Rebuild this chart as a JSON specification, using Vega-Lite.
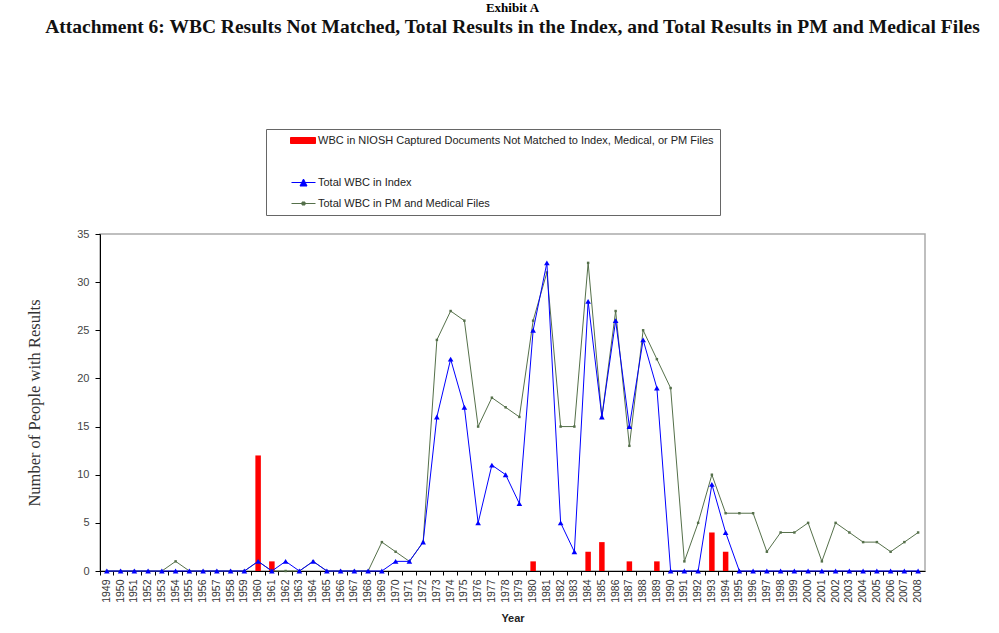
{
  "$schema": "https://vega.github.io/schema/vega-lite/v6.json",
  "width": 825,
  "height": 337,
  "autosize": {"type": "none"},
  "padding": {"left": 100, "top": 234, "right": 74, "bottom": 62},
  "background": "white",
  "title": {
    "text": "Exhibit A",
    "subtitle": "Attachment 6: WBC Results Not Matched, Total Results in the Index, and Total Results in PM and Medical Files",
    "font": "Liberation Serif",
    "fontSize": 13,
    "fontWeight": "bold",
    "color": "#000",
    "subtitleFont": "Liberation Serif",
    "subtitleFontSize": 19.5,
    "subtitleFontWeight": "bold",
    "subtitleColor": "#111",
    "subtitlePadding": 3,
    "anchor": "middle",
    "offset": 92
  },
  "data": {
    "values": [
      {"year": "1949", "bar": null, "idx": 0, "pm": 0},
      {"year": "1950", "bar": null, "idx": 0, "pm": 0},
      {"year": "1951", "bar": null, "idx": 0, "pm": 0},
      {"year": "1952", "bar": null, "idx": 0, "pm": 0},
      {"year": "1953", "bar": null, "idx": 0, "pm": 0},
      {"year": "1954", "bar": null, "idx": 0, "pm": 1},
      {"year": "1955", "bar": null, "idx": 0, "pm": 0},
      {"year": "1956", "bar": null, "idx": 0, "pm": 0},
      {"year": "1957", "bar": null, "idx": 0, "pm": 0},
      {"year": "1958", "bar": null, "idx": 0, "pm": 0},
      {"year": "1959", "bar": null, "idx": 0, "pm": 0},
      {"year": "1960", "bar": 12, "idx": 1, "pm": 1},
      {"year": "1961", "bar": 1, "idx": 0, "pm": 0},
      {"year": "1962", "bar": null, "idx": 1, "pm": 0},
      {"year": "1963", "bar": null, "idx": 0, "pm": 0},
      {"year": "1964", "bar": null, "idx": 1, "pm": 1},
      {"year": "1965", "bar": null, "idx": 0, "pm": 0},
      {"year": "1966", "bar": null, "idx": 0, "pm": 0},
      {"year": "1967", "bar": null, "idx": 0, "pm": 0},
      {"year": "1968", "bar": null, "idx": 0, "pm": 0},
      {"year": "1969", "bar": null, "idx": 0, "pm": 3},
      {"year": "1970", "bar": null, "idx": 1, "pm": 2},
      {"year": "1971", "bar": null, "idx": 1, "pm": 1},
      {"year": "1972", "bar": null, "idx": 3, "pm": 3},
      {"year": "1973", "bar": null, "idx": 16, "pm": 24},
      {"year": "1974", "bar": null, "idx": 22, "pm": 27},
      {"year": "1975", "bar": null, "idx": 17, "pm": 26},
      {"year": "1976", "bar": null, "idx": 5, "pm": 15},
      {"year": "1977", "bar": null, "idx": 11, "pm": 18},
      {"year": "1978", "bar": null, "idx": 10, "pm": 17},
      {"year": "1979", "bar": null, "idx": 7, "pm": 16},
      {"year": "1980", "bar": 1, "idx": 25, "pm": 26},
      {"year": "1981", "bar": null, "idx": 32, "pm": 31},
      {"year": "1982", "bar": null, "idx": 5, "pm": 15},
      {"year": "1983", "bar": null, "idx": 2, "pm": 15},
      {"year": "1984", "bar": 2, "idx": 28, "pm": 32},
      {"year": "1985", "bar": 3, "idx": 16, "pm": 16},
      {"year": "1986", "bar": null, "idx": 26, "pm": 27},
      {"year": "1987", "bar": 1, "idx": 15, "pm": 13},
      {"year": "1988", "bar": null, "idx": 24, "pm": 25},
      {"year": "1989", "bar": 1, "idx": 19, "pm": 22},
      {"year": "1990", "bar": null, "idx": 0, "pm": 19},
      {"year": "1991", "bar": null, "idx": 0, "pm": 1},
      {"year": "1992", "bar": null, "idx": 0, "pm": 5},
      {"year": "1993", "bar": 4, "idx": 9, "pm": 10},
      {"year": "1994", "bar": 2, "idx": 4, "pm": 6},
      {"year": "1995", "bar": null, "idx": 0, "pm": 6},
      {"year": "1996", "bar": null, "idx": 0, "pm": 6},
      {"year": "1997", "bar": null, "idx": 0, "pm": 2},
      {"year": "1998", "bar": null, "idx": 0, "pm": 4},
      {"year": "1999", "bar": null, "idx": 0, "pm": 4},
      {"year": "2000", "bar": null, "idx": 0, "pm": 5},
      {"year": "2001", "bar": null, "idx": 0, "pm": 1},
      {"year": "2002", "bar": null, "idx": 0, "pm": 5},
      {"year": "2003", "bar": null, "idx": 0, "pm": 4},
      {"year": "2004", "bar": null, "idx": 0, "pm": 3},
      {"year": "2005", "bar": null, "idx": 0, "pm": 3},
      {"year": "2006", "bar": null, "idx": 0, "pm": 2},
      {"year": "2007", "bar": null, "idx": 0, "pm": 3},
      {"year": "2008", "bar": null, "idx": 0, "pm": 4}
    ]
  },
  "encoding": {
    "x": {
      "field": "year",
      "type": "ordinal",
      "scale": {"paddingInner": 0, "paddingOuter": 0},
      "axis": {
        "title": "Year",
        "titleFont": "Liberation Sans",
        "titleFontSize": 11,
        "titleFontWeight": "bold",
        "titleColor": "#222",
        "titlePadding": 10,
        "labelAngle": -90,
        "labelFont": "Liberation Sans",
        "labelFontSize": 10.5,
        "labelColor": "#333",
        "labelPadding": 4,
        "bandPosition": 0,
        "labelOffset": 0,
        "domainColor": "#000",
        "tickColor": "#000",
        "tickSize": 4
      }
    }
  },
  "layer": [
    {
      "mark": {"type": "bar", "width": {"band": 0.4}},
      "encoding": {
        "y": {
          "field": "bar",
          "type": "quantitative",
          "scale": {"domain": [0, 35], "nice": false},
          "axis": {
            "title": "Number of People with Results",
            "titleFont": "Liberation Serif",
            "titleFontSize": 16.5,
            "titleFontWeight": "normal",
            "titleColor": "#333",
            "titlePadding": 34,
            "values": [0, 5, 10, 15, 20, 25, 30, 35],
            "labelFont": "Liberation Sans",
            "labelFontSize": 11,
            "labelColor": "#444",
            "labelPadding": 6,
            "domainColor": "#000",
            "tickColor": "#000",
            "tickSize": 5,
            "grid": false
          }
        },
        "color": {
          "datum": "WBC in NIOSH Captured Documents Not Matched to Index, Medical, or PM Files",
          "scale": {
            "domain": ["WBC in NIOSH Captured Documents Not Matched to Index, Medical, or PM Files", " ", "Total WBC in Index", "Total WBC in PM and Medical Files"],
            "range": ["#ff0000", "#ffffff", "#0000ff", "#55704a"]
          },
          "legend": {
            "orient": "none",
            "legendX": 166,
            "legendY": -105,
            "title": null,
            "padding": 6,
            "strokeColor": "#666",
            "fillColor": "#ffffff",
            "labelFont": "Liberation Sans",
            "labelFontSize": 11,
            "labelColor": "#222",
            "labelOffset": 35,
            "labelLimit": 600,
            "symbolSize": 100,
            "rowPadding": 9,
            "encode": {
              "symbols": {
                "update": {
                  "shape": {"signal": "datum.value === 'Total WBC in Index' ? 'M2.8,0H7.6M4.5,0.7L5.2,-0.7L5.9,0.7Z' : datum.value === 'Total WBC in PM and Medical Files' ? 'M2.8,0H7.6M4.9,-0.3H5.5V0.3H4.9Z' : datum.value === ' ' ? 'M0,0' : 'M2.6,-0.6H7.6V0.6H2.6Z'"},
                  "fill": {"signal": "datum.value === 'Total WBC in Index' ? '#0000ff' : datum.value === 'Total WBC in PM and Medical Files' ? '#333333' : datum.value === ' ' ? 'transparent' : '#ff0000'"},
                  "stroke": {"signal": "datum.value === 'Total WBC in Index' ? '#0000ff' : datum.value === 'Total WBC in PM and Medical Files' ? '#333333' : datum.value === ' ' ? 'transparent' : '#ff0000'"},
                  "strokeWidth": {"value": 1},
                  "opacity": {"value": 1}
                }
              }
            }
          }
        }
      }
    },
    {
      "mark": {"type": "line", "strokeWidth": 1, "point": {"shape": "square", "size": 6, "filled": true, "color": "#444444"}},
      "encoding": {
        "y": {"field": "pm", "type": "quantitative"},
        "color": {"datum": "Total WBC in PM and Medical Files"}
      }
    },
    {
      "mark": {"type": "line", "strokeWidth": 1, "point": {"shape": "triangle-up", "size": 32, "filled": true, "color": "#0000ff"}},
      "encoding": {
        "y": {"field": "idx", "type": "quantitative"},
        "color": {"datum": "Total WBC in Index"}
      }
    }
  ],
  "config": {
    "view": {"stroke": "#aaaaaa", "strokeWidth": 1.5}
  }
}
